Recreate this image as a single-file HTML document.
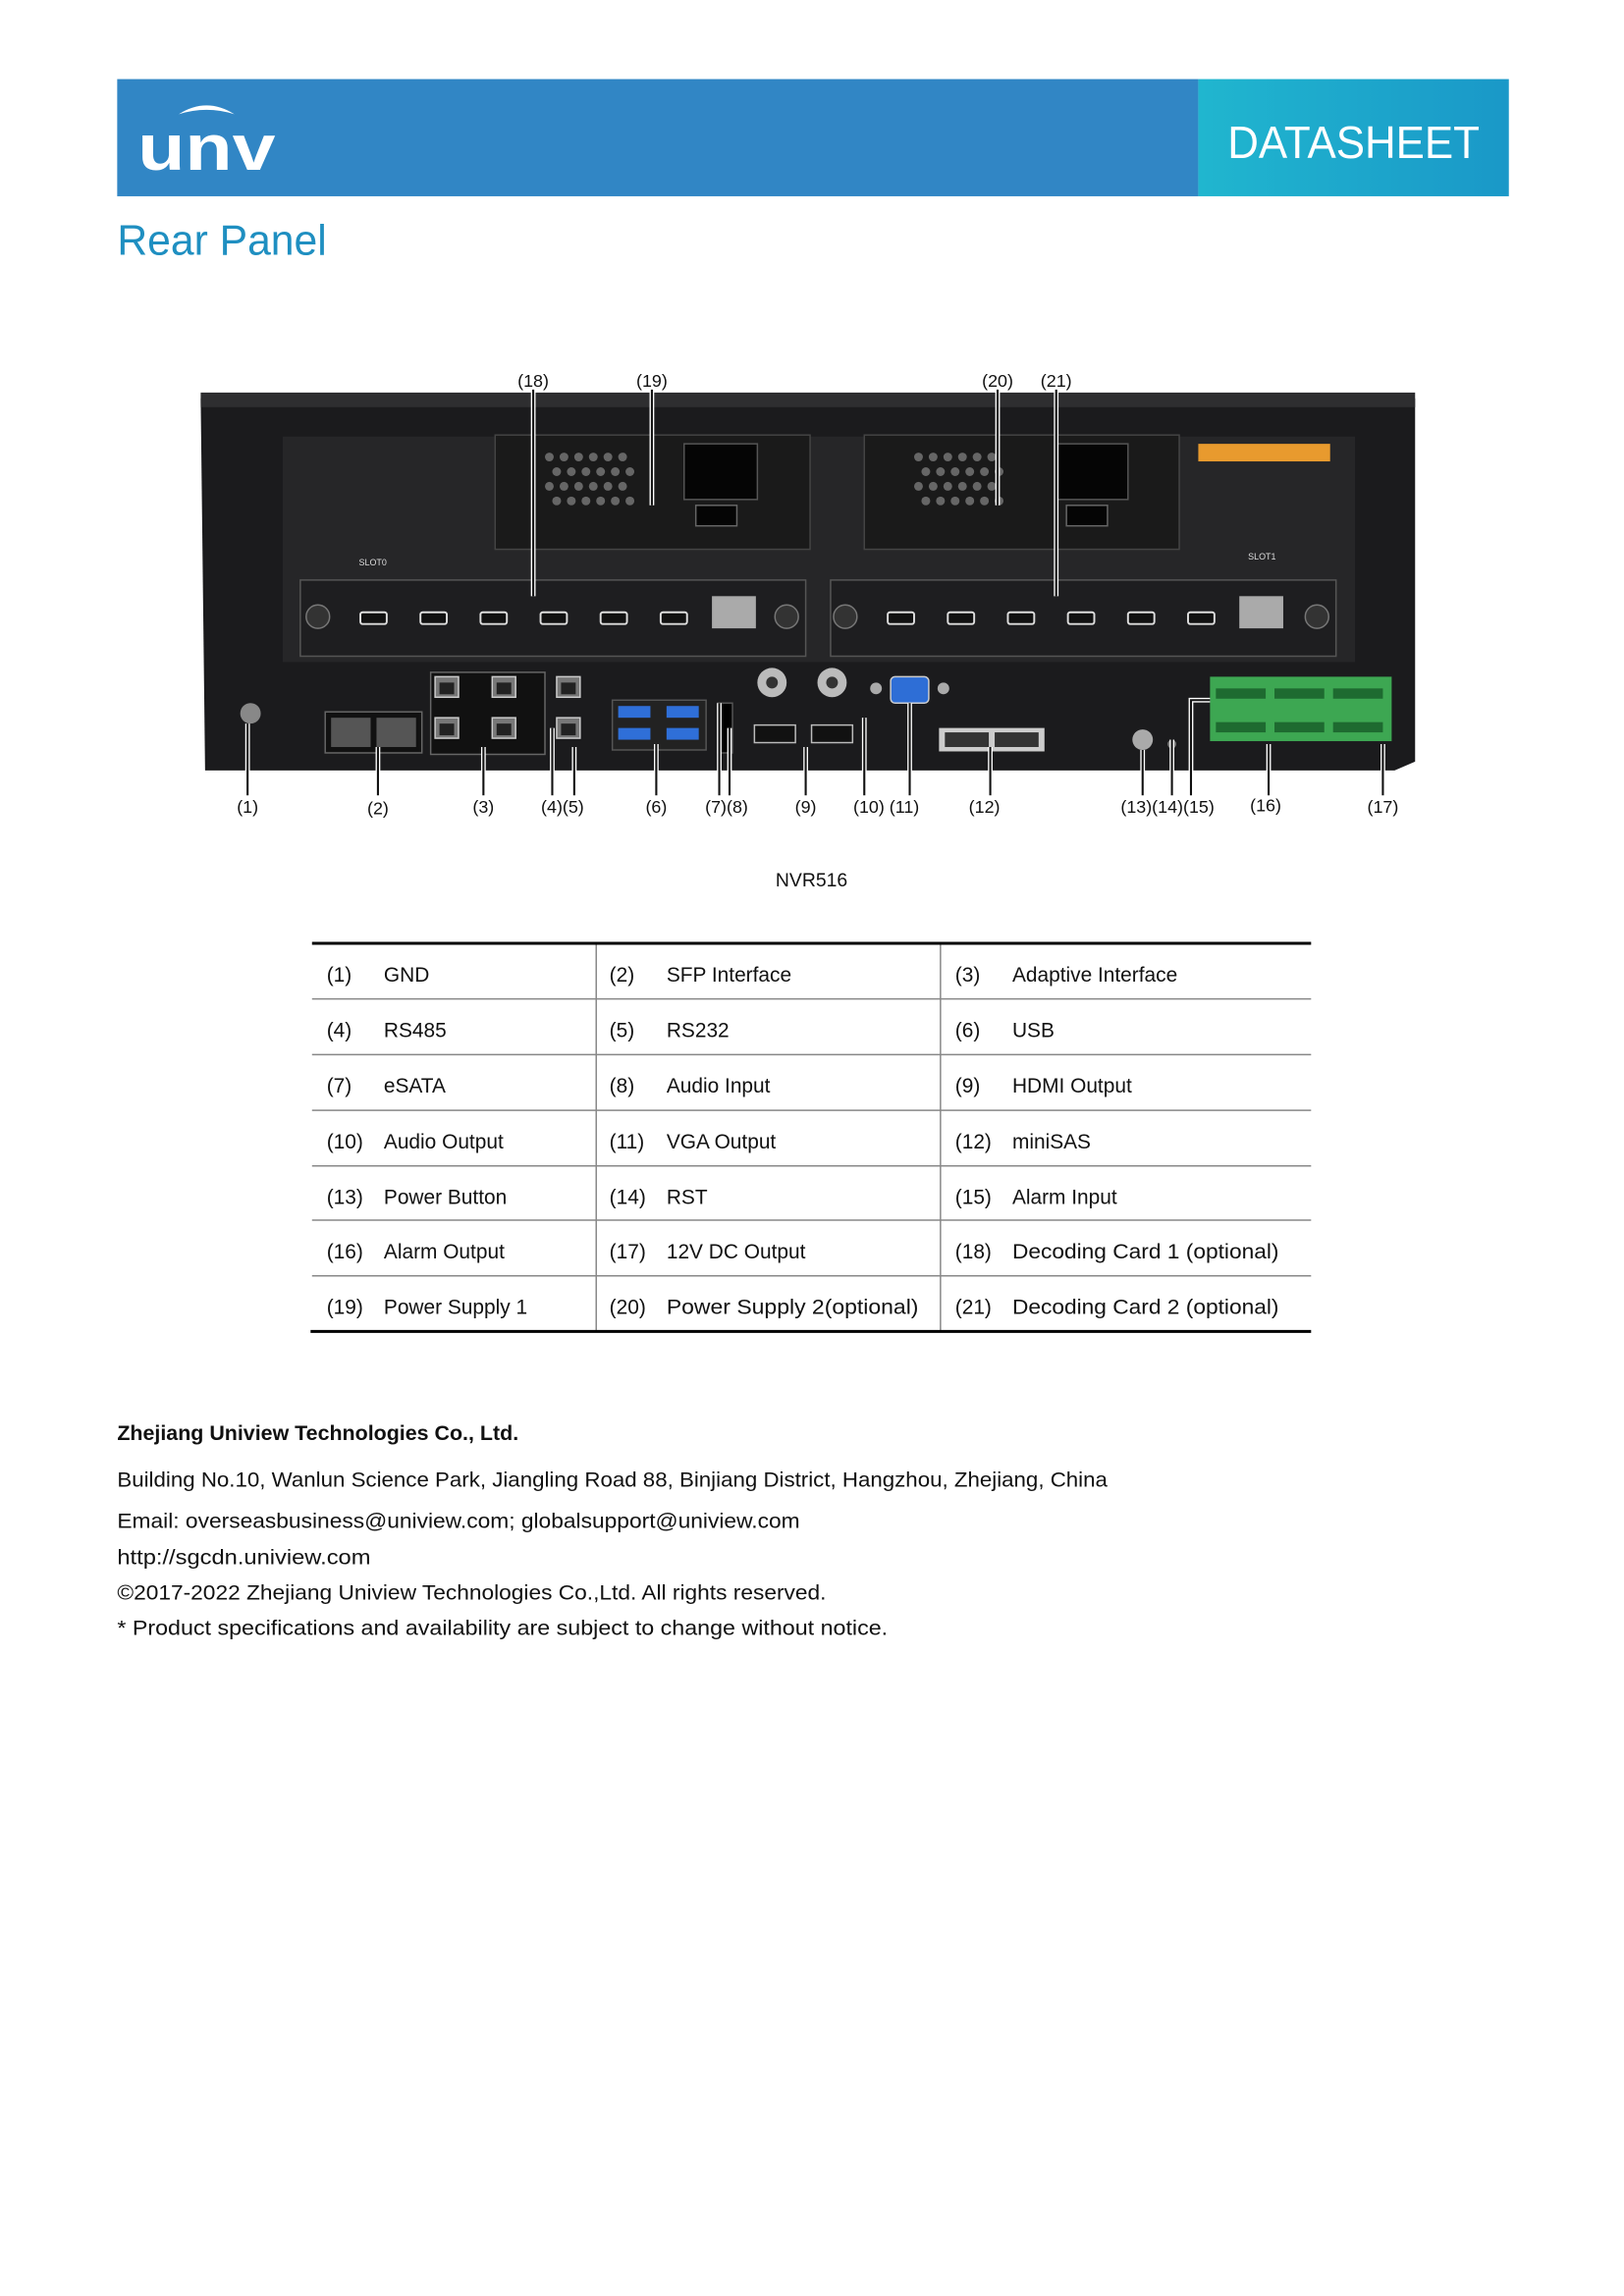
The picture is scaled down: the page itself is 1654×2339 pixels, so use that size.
<!DOCTYPE html>
<html><head><meta charset="utf-8"><style>
html,body{margin:0;padding:0;background:#fff}
svg{display:block}
text{font-family:"Liberation Sans",sans-serif}
</style></head><body>
<svg width="1654" height="2339" viewBox="0 0 1108.6 1567.5" preserveAspectRatio="none" xmlns="http://www.w3.org/2000/svg">
<defs>
<linearGradient id="tg" x1="0" x2="1"><stop offset="0" stop-color="#20b6cf"/><stop offset="1" stop-color="#1a98c8"/></linearGradient>
<g id="hdmi"><rect x="0" y="0" width="18" height="8" rx="1.5" fill="#111" stroke="#ddd" stroke-width="1.3"/></g>
<g id="rj"><rect x="0" y="0" width="16" height="14" fill="#777" stroke="#ccc" stroke-width="1"/><rect x="3" y="4" width="10" height="8" fill="#222"/></g>
</defs>
<!-- header -->
<rect x="80" y="54" width="738" height="80" fill="#3186c5"/>
<rect x="818" y="54" width="212" height="80" fill="url(#tg)"/>
<text x="924" y="108" font-size="31" fill="#fff" text-anchor="middle" textLength="172" lengthAdjust="spacingAndGlyphs">DATASHEET</text>
<text x="94" y="116" font-size="44" fill="#fff" font-weight="bold" textLength="94" lengthAdjust="spacingAndGlyphs">unv</text>
<path d="M122 78 Q141 66 160 78 Q141 72 122 78Z" fill="#fff"/>
<text x="80" y="174" font-size="29" fill="#1f8fc1" textLength="143" lengthAdjust="spacingAndGlyphs">Rear Panel</text>

<!-- device -->
<path d="M137 272 L966 272 L966 520 L952 526 L140 526 Z" fill="#1b1b1d"/>
<rect x="137" y="268" width="829" height="10" fill="#2e2e30"/>
<rect x="193" y="298" width="732" height="154" fill="#262628"/>
<rect x="338" y="297" width="215" height="78" fill="#1a1a1a" stroke="#444" stroke-width="1"/>
<rect x="590" y="297" width="215" height="78" fill="#1a1a1a" stroke="#444" stroke-width="1"/>
<g fill="#666">
<circle cx="375" cy="312" r="3"/><circle cx="385" cy="312" r="3"/><circle cx="395" cy="312" r="3"/><circle cx="405" cy="312" r="3"/><circle cx="415" cy="312" r="3"/><circle cx="425" cy="312" r="3"/>
<circle cx="380" cy="322" r="3"/><circle cx="390" cy="322" r="3"/><circle cx="400" cy="322" r="3"/><circle cx="410" cy="322" r="3"/><circle cx="420" cy="322" r="3"/><circle cx="430" cy="322" r="3"/>
<circle cx="375" cy="332" r="3"/><circle cx="385" cy="332" r="3"/><circle cx="395" cy="332" r="3"/><circle cx="405" cy="332" r="3"/><circle cx="415" cy="332" r="3"/><circle cx="425" cy="332" r="3"/>
<circle cx="380" cy="342" r="3"/><circle cx="390" cy="342" r="3"/><circle cx="400" cy="342" r="3"/><circle cx="410" cy="342" r="3"/><circle cx="420" cy="342" r="3"/><circle cx="430" cy="342" r="3"/>
<circle cx="627" cy="312" r="3"/><circle cx="637" cy="312" r="3"/><circle cx="647" cy="312" r="3"/><circle cx="657" cy="312" r="3"/><circle cx="667" cy="312" r="3"/><circle cx="677" cy="312" r="3"/>
<circle cx="632" cy="322" r="3"/><circle cx="642" cy="322" r="3"/><circle cx="652" cy="322" r="3"/><circle cx="662" cy="322" r="3"/><circle cx="672" cy="322" r="3"/><circle cx="682" cy="322" r="3"/>
<circle cx="627" cy="332" r="3"/><circle cx="637" cy="332" r="3"/><circle cx="647" cy="332" r="3"/><circle cx="657" cy="332" r="3"/><circle cx="667" cy="332" r="3"/><circle cx="677" cy="332" r="3"/>
<circle cx="632" cy="342" r="3"/><circle cx="642" cy="342" r="3"/><circle cx="652" cy="342" r="3"/><circle cx="662" cy="342" r="3"/><circle cx="672" cy="342" r="3"/><circle cx="682" cy="342" r="3"/>
</g>
<rect x="467" y="303" width="50" height="38" fill="#050505" stroke="#555"/>
<rect x="475" y="345" width="28" height="14" fill="#050505" stroke="#666"/>
<rect x="720" y="303" width="50" height="38" fill="#050505" stroke="#555"/>
<rect x="728" y="345" width="28" height="14" fill="#050505" stroke="#666"/>
<rect x="818" y="303" width="90" height="12" fill="#e89a2e"/>
<text x="245" y="386" font-size="6" fill="#ddd">SLOT0</text>
<text x="852" y="382" font-size="6" fill="#ddd">SLOT1</text>
<rect x="205" y="396" width="345" height="52" fill="#1e1e20" stroke="#555"/>
<rect x="567" y="396" width="345" height="52" fill="#1e1e20" stroke="#555"/>
<circle cx="217" cy="421" r="8" fill="#333" stroke="#777"/><circle cx="537" cy="421" r="8" fill="#333" stroke="#777"/>
<circle cx="577" cy="421" r="8" fill="#333" stroke="#777"/><circle cx="899" cy="421" r="8" fill="#333" stroke="#777"/>
<use href="#hdmi" x="246" y="418"/><use href="#hdmi" x="287" y="418"/><use href="#hdmi" x="328" y="418"/><use href="#hdmi" x="369" y="418"/><use href="#hdmi" x="410" y="418"/><use href="#hdmi" x="451" y="418"/>
<use href="#hdmi" x="606" y="418"/><use href="#hdmi" x="647" y="418"/><use href="#hdmi" x="688" y="418"/><use href="#hdmi" x="729" y="418"/><use href="#hdmi" x="770" y="418"/><use href="#hdmi" x="811" y="418"/>
<rect x="486" y="407" width="30" height="22" fill="#aaa"/><rect x="846" y="407" width="30" height="22" fill="#aaa"/>
<!-- bottom IO -->
<circle cx="171" cy="487" r="7" fill="#888"/>
<rect x="222" y="486" width="66" height="28" fill="#111" stroke="#666"/>
<rect x="226" y="490" width="27" height="20" fill="#555"/><rect x="257" y="490" width="27" height="20" fill="#555"/>
<rect x="294" y="459" width="78" height="56" fill="#111" stroke="#666"/>
<use href="#rj" x="297" y="462"/><use href="#rj" x="297" y="490"/><use href="#rj" x="336" y="462"/><use href="#rj" x="336" y="490"/>
<use href="#rj" x="380" y="462"/><use href="#rj" x="380" y="490"/>
<rect x="418" y="478" width="64" height="34" fill="#222" stroke="#555"/>
<rect x="422" y="482" width="22" height="8" fill="#2f6fd8"/><rect x="455" y="482" width="22" height="8" fill="#2f6fd8"/>
<rect x="422" y="497" width="22" height="8" fill="#2f6fd8"/><rect x="455" y="497" width="22" height="8" fill="#2f6fd8"/>
<rect x="490" y="480" width="10" height="34" fill="#000" stroke="#555"/>
<circle cx="527" cy="466" r="10" fill="#bbb"/><circle cx="527" cy="466" r="4" fill="#333"/>
<circle cx="568" cy="466" r="10" fill="#bbb"/><circle cx="568" cy="466" r="4" fill="#333"/>
<rect x="515" y="495" width="28" height="12" fill="#111" stroke="#bbb"/><rect x="554" y="495" width="28" height="12" fill="#111" stroke="#bbb"/>
<rect x="608" y="462" width="26" height="18" rx="3" fill="#2e6ed6" stroke="#ccc"/>
<circle cx="598" cy="470" r="4" fill="#aaa"/><circle cx="644" cy="470" r="4" fill="#aaa"/>
<rect x="641" y="497" width="72" height="16" fill="#ccc"/><rect x="645" y="500" width="30" height="10" fill="#333"/><rect x="679" y="500" width="30" height="10" fill="#333"/>
<circle cx="780" cy="505" r="7" fill="#aaa"/><circle cx="800" cy="508" r="3" fill="#777"/>
<rect x="826" y="462" width="124" height="44" fill="#3da752"/>
<g fill="#1e6a30"><rect x="830" y="470" width="34" height="7"/><rect x="870" y="470" width="34" height="7"/><rect x="910" y="470" width="34" height="7"/><rect x="830" y="493" width="34" height="7"/><rect x="870" y="493" width="34" height="7"/><rect x="910" y="493" width="34" height="7"/></g>
<!-- callout lines -->
<g stroke="#fff" stroke-width="3.2" fill="none">
<path d="M364 266V407M445 266V345M681 266V345M721 266V407M169 543V494M258 543V510M330 543V510M377 543V497M392 543V510M448 543V508M491 543V480M498 543V497M550 543V510M590 543V490M621 543V480M676 543V510M780 543V512M800 543V505M813 543V478H826M866 543V508M944 543V508"/>
</g>
<g stroke="#111" stroke-width="1.4" fill="none">
<path d="M364 266V407M445 266V345M681 266V345M721 266V407M169 543V494M258 543V510M330 543V510M377 543V497M392 543V510M448 543V508M491 543V480M498 543V497M550 543V510M590 543V490M621 543V480M676 543V510M780 543V512M800 543V505M813 543V478H826M866 543V508M944 543V508"/>
</g>
<g font-size="12" fill="#111" text-anchor="middle">
<text x="364" y="264">(18)</text><text x="445" y="264">(19)</text><text x="681" y="264">(20)</text><text x="721" y="264">(21)</text>
<text x="169" y="555">(1)</text><text x="258" y="556">(2)</text><text x="330" y="555">(3)</text><text x="384" y="555">(4)(5)</text>
<text x="448" y="555">(6)</text><text x="496" y="555">(7)(8)</text><text x="550" y="555">(9)</text><text x="605" y="555">(10) (11)</text>
<text x="672" y="555">(12)</text><text x="797" y="555">(13)(14)(15)</text><text x="864" y="554">(16)</text><text x="944" y="555">(17)</text>
</g>
<text x="554" y="605" font-size="13" fill="#111" text-anchor="middle">NVR516</text>

<!-- table -->
<g stroke="#888" stroke-width="1">
<line x1="213" y1="682" x2="895" y2="682"/><line x1="213" y1="720" x2="895" y2="720"/><line x1="213" y1="758" x2="895" y2="758"/>
<line x1="213" y1="796" x2="895" y2="796"/><line x1="213" y1="833" x2="895" y2="833"/><line x1="213" y1="871" x2="895" y2="871"/>
<line x1="407" y1="644" x2="407" y2="909"/><line x1="642" y1="644" x2="642" y2="909"/>
</g>
<line x1="213" y1="644" x2="895" y2="644" stroke="#000" stroke-width="2"/>
<line x1="212" y1="909" x2="895" y2="909" stroke="#000" stroke-width="2"/>
<g font-size="14" fill="#111">
<text x="223" y="670">(1)</text><text x="262" y="670">GND</text><text x="416" y="670">(2)</text><text x="455" y="670">SFP Interface</text><text x="652" y="670">(3)</text><text x="691" y="670">Adaptive Interface</text>
<text x="223" y="708">(4)</text><text x="262" y="708">RS485</text><text x="416" y="708">(5)</text><text x="455" y="708">RS232</text><text x="652" y="708">(6)</text><text x="691" y="708">USB</text>
<text x="223" y="746">(7)</text><text x="262" y="746">eSATA</text><text x="416" y="746">(8)</text><text x="455" y="746">Audio Input</text><text x="652" y="746">(9)</text><text x="691" y="746">HDMI Output</text>
<text x="223" y="784">(10)</text><text x="262" y="784">Audio Output</text><text x="416" y="784">(11)</text><text x="455" y="784">VGA Output</text><text x="652" y="784">(12)</text><text x="691" y="784">miniSAS</text>
<text x="223" y="822">(13)</text><text x="262" y="822">Power Button</text><text x="416" y="822">(14)</text><text x="455" y="822">RST</text><text x="652" y="822">(15)</text><text x="691" y="822">Alarm Input</text>
<text x="223" y="859">(16)</text><text x="262" y="859">Alarm Output</text><text x="416" y="859">(17)</text><text x="455" y="859">12V DC Output</text><text x="652" y="859">(18)</text><text x="691" y="859" textLength="182" lengthAdjust="spacingAndGlyphs">Decoding Card 1 (optional)</text>
<text x="223" y="897">(19)</text><text x="262" y="897">Power Supply 1</text><text x="416" y="897">(20)</text><text x="455" y="897" textLength="172" lengthAdjust="spacingAndGlyphs">Power Supply 2(optional)</text><text x="652" y="897">(21)</text><text x="691" y="897" textLength="182" lengthAdjust="spacingAndGlyphs">Decoding Card 2 (optional)</text>
</g>

<!-- footer -->
<g font-size="14" fill="#111">
<text x="80" y="983" font-weight="bold" textLength="274" lengthAdjust="spacingAndGlyphs">Zhejiang Uniview Technologies Co., Ltd.</text>
<text x="80" y="1015" textLength="676" lengthAdjust="spacingAndGlyphs">Building No.10, Wanlun Science Park, Jiangling Road 88, Binjiang District, Hangzhou, Zhejiang, China</text>
<text x="80" y="1043" textLength="466" lengthAdjust="spacingAndGlyphs">Email: overseasbusiness@uniview.com; globalsupport@uniview.com</text>
<text x="80" y="1068" textLength="173" lengthAdjust="spacingAndGlyphs">http://sgcdn.uniview.com</text>
<text x="80" y="1092" textLength="484" lengthAdjust="spacingAndGlyphs">©2017-2022 Zhejiang Uniview Technologies Co.,Ltd. All rights reserved.</text>
<text x="80" y="1116" textLength="526" lengthAdjust="spacingAndGlyphs">*  Product specifications and availability are subject to change without notice.</text>
</g>
</svg>
</body></html>
